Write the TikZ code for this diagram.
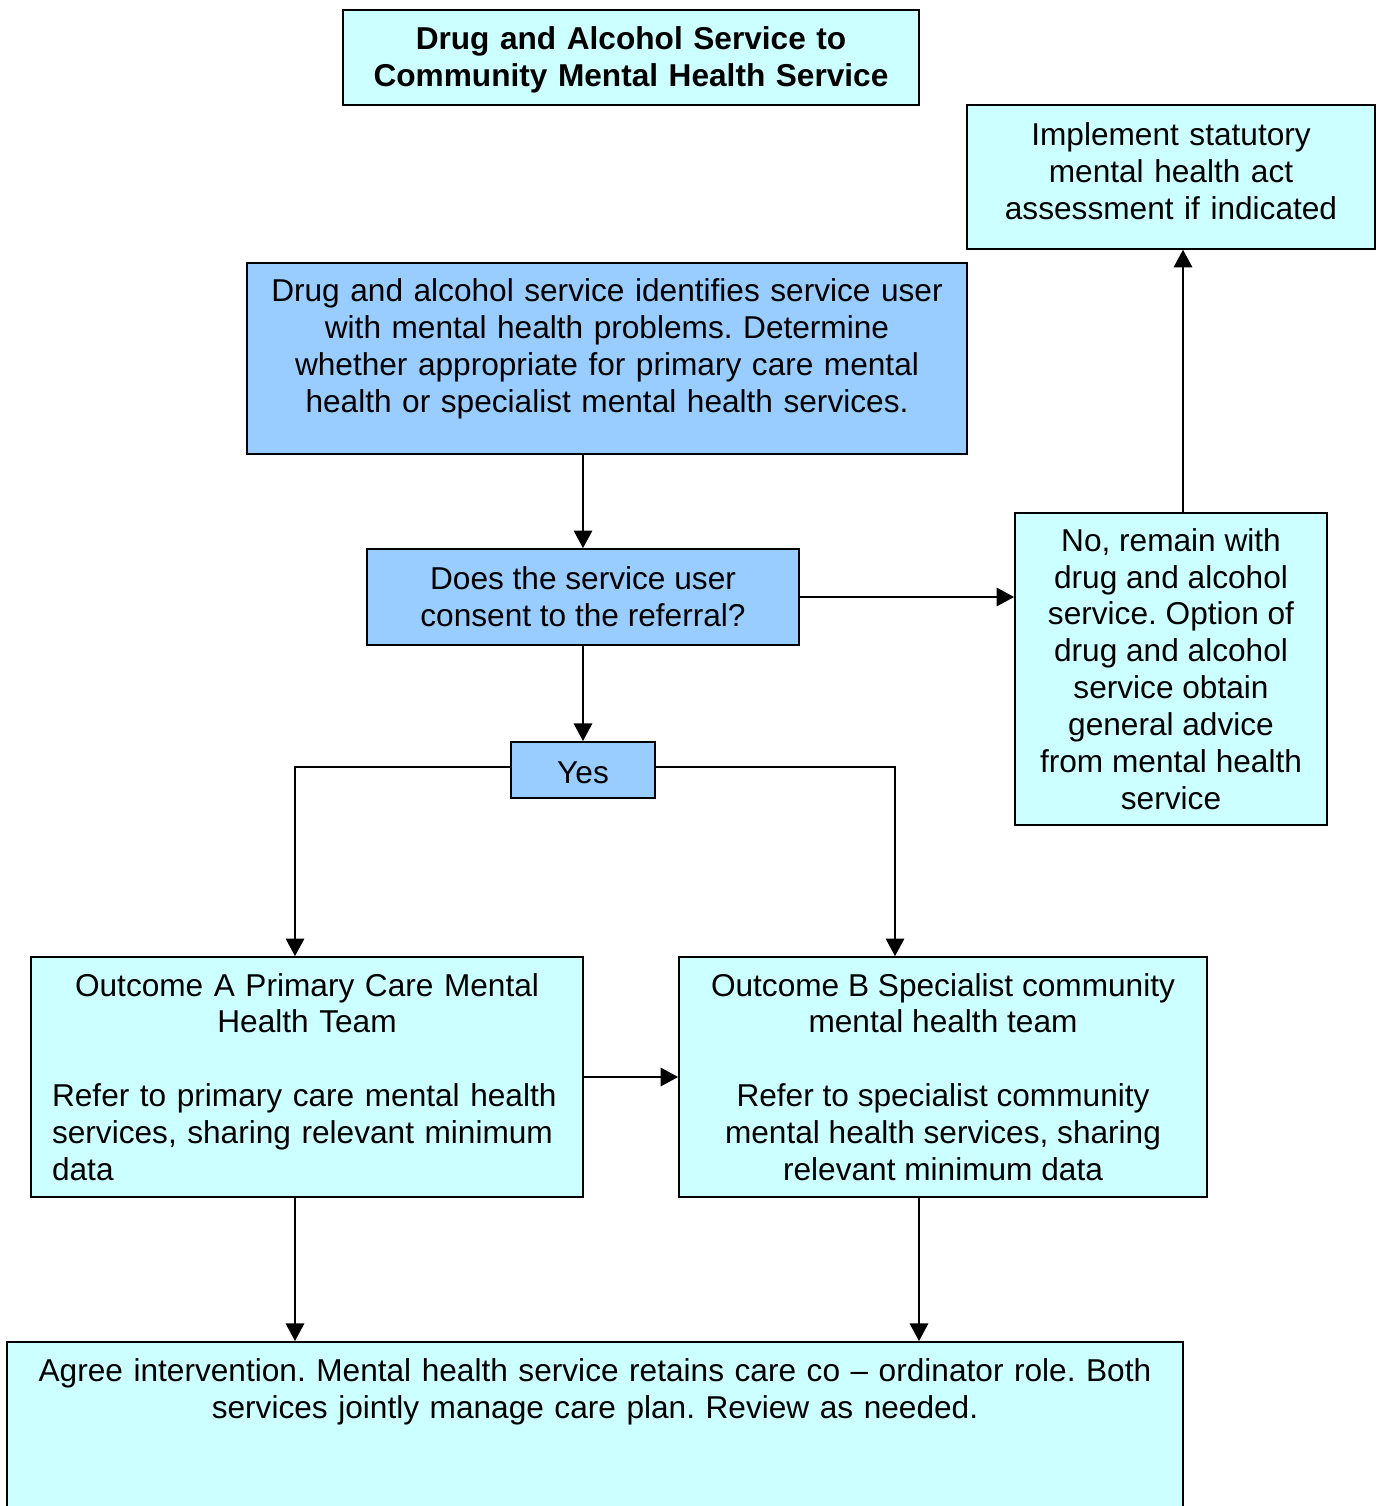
\documentclass[tikz,border=0pt]{standalone}
\usepackage{fontspec}
\setmainfont{Liberation Sans}
\usepackage{tikz}
\usetikzlibrary{arrows.meta,positioning,calc}
\definecolor{paleCyan}{HTML}{CCFFFF}
\definecolor{skyBlue}{HTML}{99CCFF}
\frenchspacing
\tikzset{
  box/.style={draw,line width=1pt,fill=paleCyan,inner sep=0pt,align=center,
              font=\fontsize{18}{21}\selectfont\frenchspacing},
  bluebox/.style={box,fill=skyBlue},
  arr/.style={-{Triangle[length=10pt,width=10.5pt]},line width=1pt},
}
\begin{document}
\begin{tikzpicture}[x=0.02cm,y=-0.02cm]
  \clip (0,0) rectangle (1382,1506);
  \fill[white] (0,0) rectangle (1382,1506);

  \node[box,anchor=north,text width=11.52cm,text height=0.8cm,text depth=1.1cm,
        font=\fontsize{18}{21}\selectfont\bfseries]
    (title) at (631,9) {Drug and Alcohol Service to\\Community Mental Health Service};
  \node[box,anchor=north,text width=8.16cm,text height=0.82cm,text depth=2.06cm] (implement) at (1171,104)
    {Implement statutory\\mental health act\\assessment if indicated};
  \node[bluebox,anchor=north,text width=14.4cm,text height=0.78cm,text depth=3.04cm]
    (identify) at (607,262)
    {Drug and alcohol service identifies service user\\with mental health problems. Determine\\
     whether appropriate for primary care mental\\health or specialist mental health services.};
  \node[bluebox,minimum width=8.64cm,minimum height=1.92cm] (consent) at (583,597)
    {Does the service user\\consent to the referral?};
  \node[box,minimum width=6.24cm,minimum height=6.24cm] (remain) at (1171,669)
    {No, remain with\\drug and alcohol\\service. Option of\\drug and alcohol\\service obtain\\
     general advice\\from mental health\\service};
  \node[bluebox,anchor=north,text width=2.88cm,text height=0.84cm,text depth=0.28cm] (yes) at (583,741) {Yes};
  \node[box,align=left,text width=10.2cm,inner xsep=0.42cm,minimum height=4.8cm] (outA) at (307,1077)
    {{\centering Outcome A Primary Care Mental\\Health Team\par}\vspace{21pt}
     Refer to primary care mental health\\services, sharing relevant minimum\\data};
  \node[box,minimum width=10.56cm,minimum height=4.8cm] (outB) at (943,1077)
    {Outcome B Specialist community\\mental health team\\[21pt]
     Refer to specialist community\\mental health services, sharing\\relevant minimum data};
  \node[box,anchor=north,text width=23.52cm,text height=0.8cm,text depth=3.6cm]
    (agree) at (595,1341)
    {Agree intervention. Mental health service retains care co -- ordinator role. Both\\
     services jointly manage care plan. Review as needed.};

  % connectors
  \draw[arr] (identify.south -| consent.north) -- (consent.north);
  \draw[arr] (consent.south) -- (yes.north);
  \draw[arr] (consent.east) -- (consent.east -| remain.west);
  \draw[arr] ($(remain.north)+(12,0)$) -- ($(implement.south)+(12,0)$);
  \draw[arr] ($(yes.west)+(0,-3)$) -| ($(outA.north)+(-12,0)$);
  \draw[arr] ($(yes.east)+(0,-3)$) -| ($(outB.north)+(-48,0)$);
  \draw[arr] (outA.east) -- (outB.west);
  \draw[arr] ($(outA.south)+(-12,0)$) -- ($(outA.south |- agree.north)+(-12,0)$);
  \draw[arr] ($(outB.south)+(-24,0)$) -- ($(outB.south |- agree.north)+(-24,0)$);
\end{tikzpicture}
\end{document}
